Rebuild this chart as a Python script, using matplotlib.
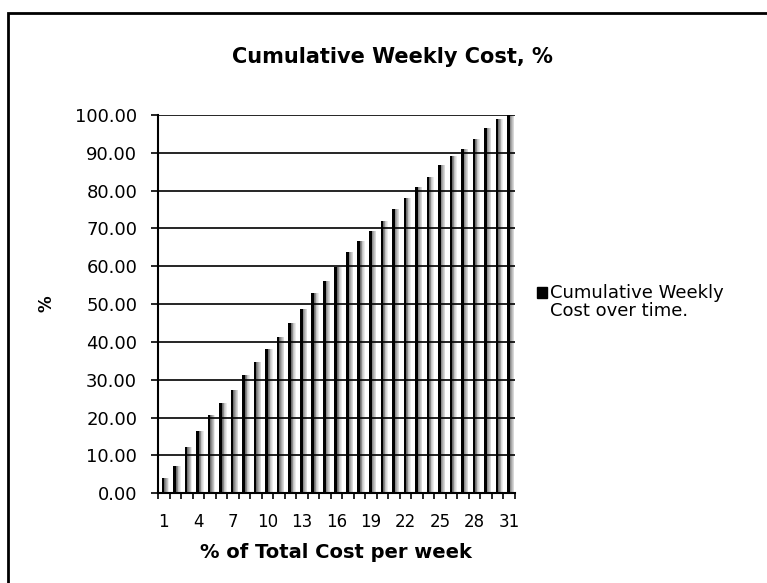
import numpy as np
import matplotlib
matplotlib.use("Agg")
import matplotlib.pyplot as plt
from matplotlib.patches import Rectangle

# week index 1..31 and cumulative cost in %
weeks = list(range(1, 32))
cum_cost = [4.0, 7.2, 12.2, 16.5, 20.6, 23.9, 27.4, 31.2, 34.7, 38.1,
            41.4, 45.1, 48.6, 52.8, 56.1, 59.9, 63.7, 66.7, 69.3, 72.0,
            75.1, 77.9, 80.9, 83.7, 86.7, 89.2, 91.1, 93.6, 96.5, 98.9, 100.0]
yticks = [0, 10, 20, 30, 40, 50, 60, 70, 80, 90, 100]
xlabels_at = [1, 4, 7, 10, 13, 16, 19, 22, 25, 28, 31]

fig = plt.figure(figsize=(7.67, 5.83), dpi=100)
ax = fig.add_axes([0.206, 0.154, 0.465, 0.649])

x = np.array(weeks)
# grey fading shadow on the right of each bar
shades = ["#6e6e6e", "#8c8c8c", "#a8a8a8", "#c2c2c2", "#d8d8d8", "#ebebeb"]
for k, c in enumerate(shades):
    ax.bar(x + 0.06 + k * 0.07, cum_cost, width=0.07, align="edge",
           color=c, linewidth=0, zorder=1)
ax.bar(x - 0.05, cum_cost, width=0.22, color="black", linewidth=0, zorder=2)

for v in yticks:
    ax.axhline(v, color="black", linewidth=1.2, zorder=3)

ax.set_xlim(0.5, 31.5)
ax.set_ylim(0, 100)
ax.set_yticks(yticks)
ax.set_yticklabels(["%.2f" % v for v in yticks], fontsize=13)
ax.set_xticks(xlabels_at)
ax.set_xticklabels([str(v) for v in xlabels_at], fontsize=12)
ax.set_xticks(np.arange(0.5, 32, 1), minor=True)
ax.tick_params(axis="x", which="major", length=0, pad=14)
ax.tick_params(axis="x", which="minor", length=4, width=1.2, direction="out")
ax.tick_params(axis="y", length=5, width=1.2, direction="out", pad=10)

for s in ["top", "right"]:
    ax.spines[s].set_visible(False)
for s in ["left", "bottom"]:
    ax.spines[s].set_linewidth(1.5)
    ax.spines[s].set_zorder(4)

ax.set_xlabel("% of Total Cost per week", fontsize=14, fontweight="bold", labelpad=9)
ax.set_ylabel("%", fontsize=12, fontweight="bold", labelpad=14)
fig.text(0.512, 0.902, "Cumulative Weekly Cost, %", ha="center", va="center",
         fontsize=15, fontweight="bold")

# legend
fig.patches.append(Rectangle((537 / 767, 1 - 298 / 583), 10 / 767, 11 / 583,
                             transform=fig.transFigure, color="black"))
fig.text(550 / 767, 1 - 302 / 583, "Cumulative Weekly\nCost over time.",
         ha="left", va="center", fontsize=13, linespacing=1.05)

# outer frame
fig.patches.append(Rectangle((8 / 767, -0.05), 1.1, 1.05 - 13 / 583,
                             transform=fig.transFigure, fill=False,
                             edgecolor="black", linewidth=2))

fig.savefig("out.png", dpi=100)
